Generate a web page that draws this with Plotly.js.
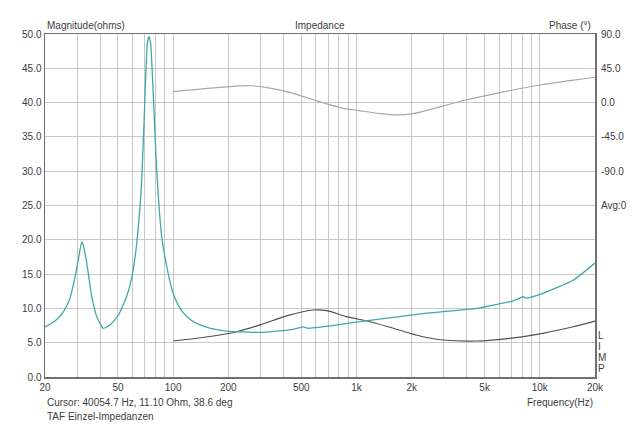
<!DOCTYPE html>
<html>
<head>
<meta charset="utf-8">
<script src="https://cdn.plot.ly/plotly-3.0.1.min.js"></script>
<style>html,body{margin:0;padding:0;background:#fff}#chart{width:640px;height:424px}</style>
</head>
<body>
<div id="chart"></div>
<script>
// Impedance magnitude (teal), driver 1
const freqTeal = [20, 21.3, 23, 25.2, 27.4, 29, 30.4, 31.7, 32.5, 33.8, 36, 38.3, 41.6, 45.3, 50.2, 55.7, 59.4, 63.3, 67.4, 70.2, 72.3, 73.9, 75.4, 78, 81.3, 86.6, 92.3, 100, 107, 114, 125, 140, 160, 196, 298, 452, 513, 546, 1045, 2416, 4527, 7164, 8128, 8400, 10400, 15200, 20000];
const magTeal  = [7.3, 7.7, 8.3, 9.5, 11.5, 14.3, 17.1, 19.7, 19.0, 16.6, 11.7, 8.8, 7.1, 7.6, 9.0, 11.7, 14.4, 19.5, 28.7, 40.9, 48.6, 49.6, 48.6, 40.9, 30.2, 20.5, 16.1, 12.2, 10.4, 9.3, 8.3, 7.6, 7.1, 6.7, 6.5, 6.95, 7.3, 7.1, 8.06, 9.3, 10.0, 11.1, 11.7, 11.5, 12.2, 14.1, 16.6];
// Impedance magnitude (dark grey), driver 2
const freqDark = [100, 159, 222, 298, 416, 582, 688, 883, 1186, 1589, 2220, 2978, 4527, 6870, 10400, 15200, 20000];
const magDark  = [5.25, 5.9, 6.6, 7.6, 8.9, 9.77, 9.67, 8.8, 8.06, 7.1, 5.98, 5.39, 5.25, 5.64, 6.37, 7.33, 8.16];
// Phase (light grey), degrees
const freqPhase = [100, 196, 262, 337, 452, 632, 848, 1045, 1343, 1655, 2042, 3827, 5820, 10000, 14600, 20000];
const phaseDeg  = [14.4, 20.7, 22.1, 18.9, 12.2, 0.9, -7.5, -10.8, -14.4, -16.2, -14.4, 2.7, 12.2, 23.1, 28.8, 33.3];

// Axis ticks
const xGridVals = [20,30,40,50,60,70,80,90,100,200,300,400,500,600,700,800,900,1000,2000,3000,4000,5000,6000,7000,8000,9000,10000,20000];
const xLabeled = {20:'20',50:'50',100:'100',200:'200',500:'500',1000:'1k',2000:'2k',5000:'5k',10000:'10k',20000:'20k'};
const xTickText = xGridVals.map(v => xLabeled[v] || '');
const yTickVals = [0,5,10,15,20,25,30,35,40,45,50];
const phaseTickVals = [90,45,0,-45,-90,-135];
const phaseTickText = ['90.0','45.0','0.0','-45.0','-90.0','Avg:0'];
const sideLetters = ['L','I','M','P'];

const txt = '#404040';
const fnt = {family:'Liberation Sans, Arial, sans-serif', size:10, color:txt};

const traces = [
  {x:freqPhase, y:phaseDeg, yaxis:'y2', mode:'lines', line:{color:'#a8a8a8', width:1.2, shape:'spline', smoothing:0.8}, hoverinfo:'skip'},
  {x:freqDark, y:magDark, mode:'lines', line:{color:'#505050', width:1.2, shape:'spline', smoothing:0.8}, hoverinfo:'skip'},
  {x:freqTeal, y:magTeal, mode:'lines', line:{color:'#40a8a8', width:1.3, shape:'spline', smoothing:0.5}, hoverinfo:'skip'}
];

const annotations = [
  {text:'Magnitude(ohms)', xref:'paper', yref:'paper', x:0, y:1, xanchor:'left', yanchor:'bottom', showarrow:false, font:fnt, yshift:1},
  {text:'Impedance', xref:'paper', yref:'paper', x:0.5, y:1, xanchor:'center', yanchor:'bottom', showarrow:false, font:fnt, yshift:1},
  {text:'Phase (°)', xref:'paper', yref:'paper', x:1, y:1, xanchor:'right', yanchor:'bottom', showarrow:false, font:fnt, yshift:1, xshift:-2},
  {text:'Frequency(Hz)', xref:'paper', yref:'paper', x:1, y:-0.073, xanchor:'right', yanchor:'middle', showarrow:false, font:fnt},
  {text:'Cursor: 40054.7 Hz, 11.10 Ohm, 38.6 deg', xref:'paper', yref:'paper', x:0, y:-0.073, xanchor:'left', yanchor:'middle', showarrow:false, font:fnt},
  {text:'TAF Einzel-Impedanzen', xref:'paper', yref:'paper', x:0, y:-0.114, xanchor:'left', yanchor:'middle', showarrow:false, font:fnt}
];
sideLetters.forEach((ch, i) => {
  annotations.push({text:ch, xref:'paper', yref:'paper', x:1, y:0.122 - i*0.032, xanchor:'left', yanchor:'middle', xshift:1, showarrow:false, font:fnt});
});

const layout = {
  width:640, height:424,
  margin:{l:45, r:45, t:34, b:47},
  paper_bgcolor:'#ffffff', plot_bgcolor:'#ffffff',
  showlegend:false,
  font:fnt,
  xaxis:{type:'log', range:[Math.log10(20), Math.log10(20000)], tickmode:'array', tickvals:xGridVals, ticktext:xTickText,
         showgrid:true, gridcolor:'#c8c8c8', gridwidth:1, zeroline:false, ticks:'', showline:true, linecolor:'#707070', linewidth:1.5, mirror:true, tickfont:fnt},
  yaxis:{range:[0,50], tickmode:'array', tickvals:yTickVals, tickformat:'.1f', showgrid:true, gridcolor:'#c8c8c8', gridwidth:1,
         zeroline:false, ticks:'', showline:true, linecolor:'#707070', linewidth:1.5, mirror:true, tickfont:fnt},
  yaxis2:{overlaying:'y', side:'right', range:[-360,90], tickmode:'array', tickvals:phaseTickVals, ticktext:phaseTickText,
          showgrid:false, zeroline:false, ticks:'', showline:false, tickfont:fnt, ticklabelstandoff:5},
  annotations:annotations
};

Plotly.newPlot('chart', traces, layout, {staticPlot:true, displayModeBar:false});
</script>
</body>
</html>
